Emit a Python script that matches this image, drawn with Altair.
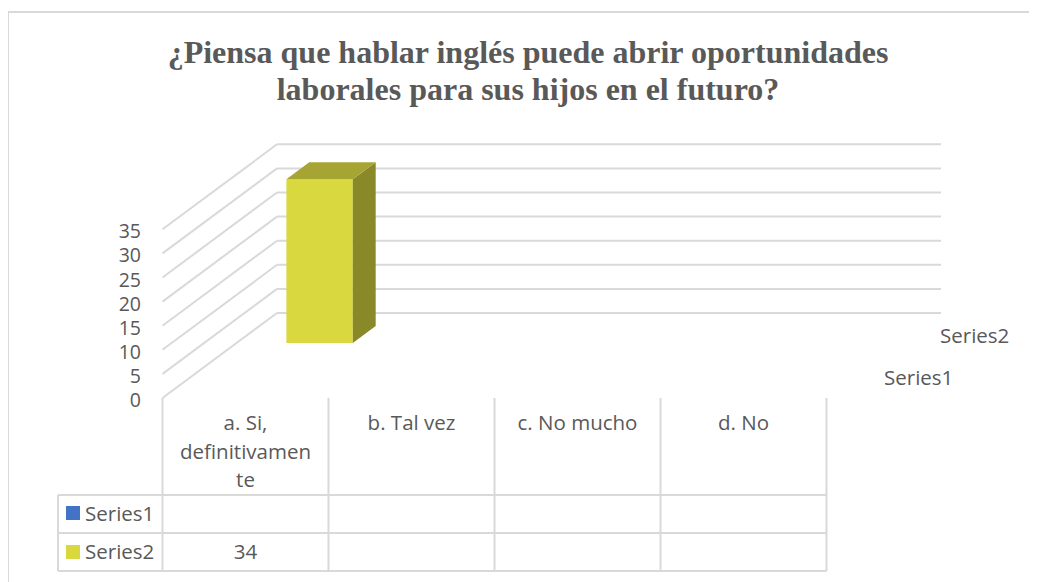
import altair as alt
import pandas as pd

title_lines = ["¿Piensa que hablar inglés puede abrir oportunidades", "laborales para sus hijos en el futuro?"]
categories = ["a. Si,\ndefinitivamen\nte", "b. Tal vez", "c. No mucho", "d. No"]
series_names = ["Series1", "Series2"]
series1 = [None, None, None, None]
series2 = [34, None, None, None]
ticks = [0, 5, 10, 15, 20, 25, 30, 35]

W, H = 1021, 574
GRID = "#D9D9D9"
TEXT = "#595959"
SANS = "Open Sans"
SIZE = 20.5
TICK_SIZE = 19.5

# oblique projection of the Excel 3-D chart: (category position, depth 0-1, value) -> page pixels
X0, Y0, CAT_W, DX, DY, UNIT = 162.5, 398.0, 166.0, 114.5, 85.0, 4.82


def px(c, d=0.0):
    return X0 + CAT_W * c + DX * d


def py(d=0.0, v=0.0):
    return Y0 - DY * d - UNIT * v


xs = alt.Scale(domain=[8, 8 + W], range=[0, W], nice=False, zero=False)
ys = alt.Scale(domain=[8, 8 + H], range=[0, H], nice=False, zero=False)
X = alt.X("x:Q", scale=xs, axis=None)
Y = alt.Y("y:Q", scale=ys, axis=None)


def segs(rows, color=GRID, width=2.0):
    return alt.Chart(pd.DataFrame(rows, columns=["x", "y", "x2", "y2"])).mark_rule(
        color=color, strokeWidth=width, clip=False
    ).encode(X, Y, x2="x2:Q", y2="y2:Q")


def txt(rows, align="center", font=SANS, size=SIZE, weight="normal", color=TEXT):
    return alt.Chart(pd.DataFrame(rows, columns=["x", "y", "t"])).mark_text(
        align=align, baseline="middle", font=font, fontSize=size, fontWeight=weight, color=color
    ).encode(X, Y, text="t:N")


n = len(categories)
layers = []

# chart frame
layers.append(segs([(8, 12, 1029, 12), (8, 12, 8, 582)]))

# title
layers.append(txt([(528, 53 + 37 * i, s) for i, s in enumerate(title_lines)],
                  font="Liberation Serif", size=32, weight="bold"))

# side wall and back wall gridlines
rows = []
for t in ticks:
    rows.append((px(0, 0), py(0, t), px(0, 1), py(1, t)))
    rows.append((px(0, 1), py(1, t), px(n, 1), py(1, t)))
layers.append(segs(rows))

# value axis labels
layers.append(txt([(141, py(0, t) + 3, str(t)) for t in ticks], align="right", size=TICK_SIZE))

# 3-D columns of series 2 (second depth slot)
BAR_W, D0, D1 = 0.4, 0.647, 0.847
for i, v in enumerate(series2):
    if v is None:
        continue
    l, r = i + 0.5 - BAR_W / 2, i + 0.5 + BAR_W / 2
    # front face
    front = pd.DataFrame({"x": [px(l, D0)], "x2": [px(r, D0)], "y": [py(D0, v)], "y2": [py(D0, 0)]})
    layers.append(alt.Chart(front).mark_rect(color="#DAD83F", clip=False).encode(X, Y, x2="x2:Q", y2="y2:Q"))
    # right face
    side = pd.DataFrame({"x": [px(r, D0), px(r, D1)], "y": [py(D0, v), py(D1, v)], "y2": [py(D0, 0), py(D1, 0)]})
    layers.append(alt.Chart(side).mark_area(color="#8A8929", clip=False).encode(X, Y, y2="y2:Q"))
    # top face
    top = pd.DataFrame({"y": [py(D0, v), py(D1, v)], "x": [px(l, D0), px(l, D1)], "x2": [px(r, D0), px(r, D1)]})
    layers.append(alt.Chart(top).mark_area(color="#A6A433", orient="horizontal", clip=False).encode(X, Y, x2="x2:Q"))

# depth axis labels
layers.append(txt([(940, 337, series_names[1]), (884, 379, series_names[0])], align="left"))

# data table
ROWS = [398, 495, 533, 571]
rows = [(px(c), ROWS[0], px(c), ROWS[3]) for c in range(n + 1)]
rows += [(58, y, px(n), y) for y in ROWS[1:]]
rows.append((58, ROWS[1], 58, ROWS[3]))
layers.append(segs(rows))

head = []
for i, c in enumerate(categories):
    for j, line in enumerate(c.split("\n")):
        head.append((px(i + 0.5), 424 + 28.5 * j, line))
layers.append(txt(head))

layers.append(txt([(85, (ROWS[1] + ROWS[2]) / 2 + 0.5, series_names[0]),
                   (85, (ROWS[2] + ROWS[3]) / 2 + 1, series_names[1])], align="left"))
cells = [(px(i + 0.5), (ROWS[2] + ROWS[3]) / 2 + 1, str(v)) for i, v in enumerate(series2) if v is not None]
cells += [(px(i + 0.5), (ROWS[1] + ROWS[2]) / 2 + 1, str(v)) for i, v in enumerate(series1) if v is not None]
layers.append(txt(cells))

sw = pd.DataFrame({"x": [66, 66], "x2": [80, 80], "y": [506, 545], "y2": [520, 559], "s": series_names})
layers.append(alt.Chart(sw).mark_rect(clip=False).encode(
    X, Y, x2="x2:Q", y2="y2:Q",
    color=alt.Color("s:N", legend=None, scale=alt.Scale(domain=series_names, range=["#4472C4", "#DAD83F"]))))

chart = alt.layer(*layers).properties(
    width=W, height=H, padding=0, autosize=alt.AutoSizeParams(type="none"), background="white"
).configure_view(stroke=None)

chart.save("out.html", embed_options={"renderer": "svg", "actions": False})
